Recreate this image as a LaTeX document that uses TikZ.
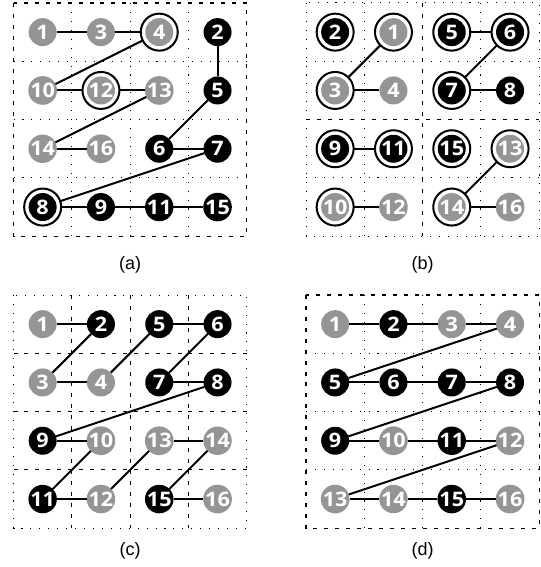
\documentclass[tikz,border=0pt]{standalone}
\usepackage{fontspec}
\setmainfont{Liberation Sans}
\newfontfamily\numfont[FakeStretch=1.08]{Open Sans}
\definecolor{nodegray}{HTML}{959595}
\tikzset{
  dotline/.style={line width=0.75pt, dash pattern=on 0.8pt off 5.9pt},
  dashline/.style={line width=0.8pt, dash pattern=on 3pt off 5.2pt},
  edge/.style={line width=1.5pt},
  num/.style={circle, inner sep=0pt, outer sep=0pt, text=white,
    font=\numfont\bfseries\fontsize{15pt}{15pt}\selectfont},
  gry/.style={num, fill=nodegray, minimum size=21pt},
  blk/.style={num, fill=black, minimum size=21pt},
  ringed/.style={num, draw=black, line width=1.5pt, fill=white, minimum size=27.75pt,
    path picture={\fill[#1] (path picture bounding box.center) circle (10.5pt);}},
  rgry/.style={ringed=nodegray},
  rblk/.style={ringed=black},
  caption/.style={font=\fontsize{13.5pt}{13.5pt}\selectfont}
}
\def\cell{58.3}

\begin{document}
\begin{tikzpicture}[x=0.75pt,y=-0.75pt]
\useasboundingbox (0,0) rectangle (540,567);

% (a)
\begin{scope}[shift={(13.5,3)}]
\draw[dashline] (0,0) rectangle (4*\cell,4*\cell);
\foreach \i in {1,2,3} {
  \draw[dotline] (\i*\cell,0) -- (\i*\cell,4*\cell);
  \draw[dotline] (0,\i*\cell) -- (4*\cell,\i*\cell);
}
\foreach \c/\r/\n/\s in {1/1/1/gry,2/1/3/gry,3/1/4/rgry,4/1/2/blk,
  1/2/10/gry,2/2/12/rgry,3/2/13/gry,4/2/5/blk,
  1/3/14/gry,2/3/16/gry,3/3/6/blk,4/3/7/blk,
  1/4/8/rblk,2/4/9/blk,3/4/11/blk,4/4/15/blk}
  \node[\s] (a\n) at ({(\c-0.5)*\cell},{(\r-0.5)*\cell}) {\n};
\foreach \u/\v in {1/3,3/4,4/10,10/12,12/13,13/14,14/16,
  2/5,5/6,6/7,7/8,8/9,9/11,11/15}
  \draw[edge] (a\u) -- (a\v);
\node[caption] (capa) at (2*\cell,262) {(a)};
\end{scope}

% (b)
\begin{scope}[shift={(306,3)}]
\draw[dotline] (0,0) rectangle (4*\cell,4*\cell);
\foreach \i/\ls in {1/dotline,2/dashline,3/dotline} {
  \draw[\ls] (\i*\cell,0) -- (\i*\cell,4*\cell);
  \draw[\ls] (0,\i*\cell) -- (4*\cell,\i*\cell);
}
\foreach \c/\r/\n/\s in {1/1/2/rblk,2/1/1/rgry,3/1/5/rblk,4/1/6/rblk,
  1/2/3/rgry,2/2/4/gry,3/2/7/rblk,4/2/8/blk,
  1/3/9/rblk,2/3/11/rblk,3/3/15/rblk,4/3/13/rgry,
  1/4/10/rgry,2/4/12/gry,3/4/14/rgry,4/4/16/gry}
  \node[\s] (b\n) at ({(\c-0.5)*\cell},{(\r-0.5)*\cell}) {\n};
\foreach \u/\v in {1/3,3/4,5/6,6/7,7/8,9/11,10/12,13/14,14/16}
  \draw[edge] (b\u) -- (b\v);
\node[caption] (capb) at (2*\cell,262) {(b)};
\end{scope}

% (c)
\begin{scope}[shift={(13.5,295)}]
\draw[dotline] (0,0) rectangle (4*\cell,4*\cell);
\foreach \i in {1,2,3} {
  \draw[dashline] (\i*\cell,0) -- (\i*\cell,4*\cell);
  \draw[dashline] (0,\i*\cell) -- (4*\cell,\i*\cell);
}
\foreach \c/\r/\n/\s in {1/1/1/gry,2/1/2/blk,3/1/5/blk,4/1/6/blk,
  1/2/3/gry,2/2/4/gry,3/2/7/blk,4/2/8/blk,
  1/3/9/blk,2/3/10/gry,3/3/13/gry,4/3/14/gry,
  1/4/11/blk,2/4/12/gry,3/4/15/blk,4/4/16/gry}
  \node[\s] (c\n) at ({(\c-0.5)*\cell},{(\r-0.5)*\cell}) {\n};
\foreach \u [count=\v from 2] in {1,...,15}
  \draw[edge] (c\u) -- (c\v);
\node[caption] (capc) at (2*\cell,256) {(c)};
\end{scope}

% (d)
\begin{scope}[shift={(306,295)}]
\draw[dashline] (0,0) rectangle (4*\cell,4*\cell);
\foreach \i in {1,2,3} {
  \draw[dotline] (\i*\cell,0) -- (\i*\cell,4*\cell);
  \draw[dotline] (0,\i*\cell) -- (4*\cell,\i*\cell);
}
\foreach \c/\r/\n/\s in {1/1/1/gry,2/1/2/blk,3/1/3/gry,4/1/4/gry,
  1/2/5/blk,2/2/6/blk,3/2/7/blk,4/2/8/blk,
  1/3/9/blk,2/3/10/gry,3/3/11/blk,4/3/12/gry,
  1/4/13/gry,2/4/14/gry,3/4/15/blk,4/4/16/gry}
  \node[\s] (d\n) at ({(\c-0.5)*\cell},{(\r-0.5)*\cell}) {\n};
\foreach \u [count=\v from 2] in {1,...,15}
  \draw[edge] (d\u) -- (d\v);
\node[caption] (capd) at (2*\cell,256) {(d)};
\end{scope}
\end{tikzpicture}
\end{document}
